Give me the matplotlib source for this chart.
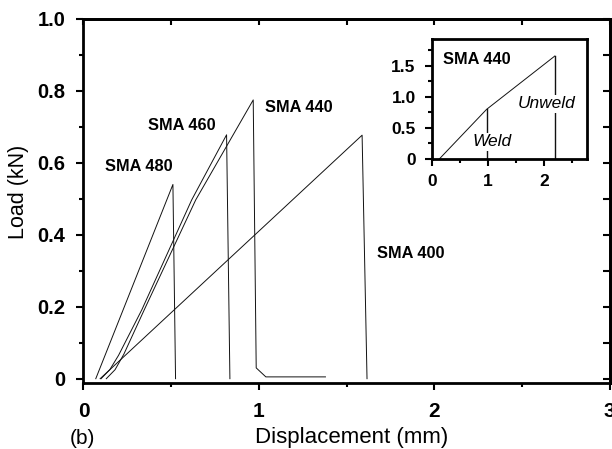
import matplotlib
matplotlib.use("Agg")
import matplotlib.pyplot as plt
from matplotlib.ticker import MultipleLocator, FixedLocator, FixedFormatter

plt.rcParams['font.family'] = ['Liberation Sans', 'DejaVu Sans']

# ---- data ----
sma480_x = [0.07, 0.51, 0.525]
sma480_y = [0.0, 0.54, 0.0]
sma460_x = [0.10, 0.15, 0.20, 0.333, 0.617, 0.816, 0.835]
sma460_y = [0.0, 0.025, 0.065, 0.192, 0.497, 0.678, 0.0]
sma440_x = [0.13, 0.18, 0.23, 0.347, 0.640, 0.968, 0.985, 1.04, 1.38]
sma440_y = [0.0, 0.025, 0.068, 0.192, 0.497, 0.775, 0.03, 0.005, 0.005]
sma400_x = [0.095, 1.589, 1.617]
sma400_y = [0.0, 0.677, 0.0]

series_labels = ["SMA 480", "SMA 460", "SMA 440", "SMA 400"]
label_pos_x = [0.12, 0.37, 1.034, 1.672]
label_pos_y = [0.59, 0.703, 0.755, 0.349]

main_xticks = [0, 1, 2, 3]
main_yticks = [0, 0.2, 0.4, 0.6, 0.8, 1.0]
main_yticklabels = ["0", "0.2", "0.4", "0.6", "0.8", "1.0"]

# inset: SMA 440 weld vs unweld
inset_x = [0.125, 0.97, 2.19]
inset_y = [0.0, 0.80, 1.66]
weld_x, weld_peak = 0.97, 0.80
unweld_x, unweld_peak = 2.20, 1.66
inset_xticks = [0, 1, 2]
inset_yticks = [0, 0.5, 1.0, 1.5]
inset_yticklabels = ["0", "0.5", "1.0", "1.5"]

W, H = 612, 449
fig = plt.figure(figsize=(W / 100, H / 100), dpi=100)

ax = fig.add_axes([83.5 / W, 1 - 383 / H, (609.5 - 83.5) / W, (383 - 19) / H])
lw = 0.7
for xs, ys in [(sma480_x, sma480_y), (sma460_x, sma460_y),
               (sma440_x, sma440_y), (sma400_x, sma400_y)]:
    ax.plot(xs, ys, color='#111111', lw=lw)

for t, x, y in zip(series_labels, label_pos_x, label_pos_y):
    ax.text(x, y, t, fontsize=11.8, fontweight='bold', ha='left', va='center')

ax.set_xlim(0, 3)
ax.set_ylim(-0.012, 1.0)
ax.xaxis.set_major_locator(FixedLocator(main_xticks))
ax.xaxis.set_minor_locator(MultipleLocator(0.5))
ax.yaxis.set_major_locator(FixedLocator(main_yticks))
ax.yaxis.set_major_formatter(FixedFormatter(main_yticklabels))
ax.yaxis.set_minor_locator(MultipleLocator(0.1))
ax.tick_params(which='major', direction='out', length=5, width=1.5)
ax.tick_params(which='minor', direction='out', length=3, width=1.5)
ax.tick_params(axis='x', which='major', labelsize=15, pad=9)
ax.tick_params(axis='y', which='major', labelsize=14.5, pad=8)
for lab in ax.get_xticklabels() + ax.get_yticklabels():
    lab.set_fontweight('bold')
for s in ax.spines.values():
    s.set_linewidth(2.0)

sec_x = ax.secondary_xaxis('top')
sec_x.xaxis.set_major_locator(MultipleLocator(0.5))
sec_x.tick_params(direction='in', length=4, width=1.5, labeltop=False)
sec_x.spines['top'].set_linewidth(2.0)
sec_y = ax.secondary_yaxis('right')
sec_y.yaxis.set_major_locator(MultipleLocator(0.1))
sec_y.tick_params(direction='in', length=5, width=1.5, labelright=False)
sec_y.spines['right'].set_linewidth(2.0)

ax.set_xlabel("Displacement (mm)", fontsize=16, labelpad=4)
ax.xaxis.set_label_coords((352 - 83.5) / (609.5 - 83.5), -(438 - 383) / (383 - 19))
ax.set_ylabel("Load (kN)", fontsize=15.5)
ax.yaxis.set_label_coords(-(83.5 - 19) / (609.5 - 83.5), (383 - 192) / (383 - 19))
ax.xaxis.label.set_va('center')
ax.yaxis.label.set_va('center')
fig.text(82 / W, 1 - 438 / H, "(b)", fontsize=15, ha='center', va='center')

# ---- inset ----
ins = fig.add_axes([432.3 / W, 1 - 159 / H, (586.7 - 432.3) / W, (159 - 39.3) / H])
ins.plot(inset_x, inset_y, color='#111111', lw=lw)
ins.plot([weld_x, weld_x], [weld_peak, 0], color='#111111', lw=1.0)
ins.plot([unweld_x, unweld_x], [unweld_peak, 0], color='#111111', lw=1.0)
ins.text(1.06, 0.28, "Weld", fontsize=12.5, style='italic', ha='center', va='center',
         bbox=dict(facecolor='white', edgecolor='none', pad=1))
ins.text(2.05, 0.89, "Unweld", fontsize=12.5, style='italic', ha='center', va='center',
         bbox=dict(facecolor='white', edgecolor='none', pad=1))
ins.text(0.19, 1.6, "SMA 440", fontsize=11.8, fontweight='bold', ha='left', va='center')
ins.set_xlim(0, 2.76)
ins.set_ylim(0, 1.93)
ins.xaxis.set_major_locator(FixedLocator(inset_xticks))
ins.xaxis.set_minor_locator(MultipleLocator(0.5))
ins.yaxis.set_major_locator(FixedLocator(inset_yticks))
ins.yaxis.set_major_formatter(FixedFormatter(inset_yticklabels))
ins.yaxis.set_minor_locator(MultipleLocator(0.25))
ins.tick_params(which='major', direction='out', length=5, width=1.5, labelsize=12.5)
ins.tick_params(which='minor', direction='out', length=3, width=1.5)
ins.tick_params(axis='x', pad=6)
ins.tick_params(axis='y', pad=7)
for lab in ins.get_xticklabels() + ins.get_yticklabels():
    lab.set_fontweight('bold')
for s in ins.spines.values():
    s.set_linewidth(2.0)

fig.savefig("out.png", dpi=100)
